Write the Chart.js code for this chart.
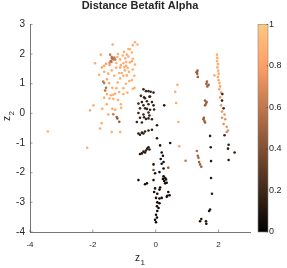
<!DOCTYPE html>
<html>
<head>
<meta charset="utf-8">
<script src="https://cdn.jsdelivr.net/npm/chart.js@4"></script>
<style>
  html, body { margin: 0; padding: 0; background: #fff; }
  #wrap { width: 287px; height: 268px; }
</style>
</head>
<body>
<div id="wrap"><canvas id="myChart" width="287" height="268"></canvas></div>
<script>
// each point: [z1, z2, alpha]
var upperLeft = [
  [-0.66,2.40,0.88],[-0.58,2.32,0.90],[-0.73,2.30,0.88],[-0.82,2.16,0.88],[-1.01,2.08,0.86],
  [-0.76,2.05,0.89],[-0.92,1.98,0.87],[-0.87,1.92,0.85],[-1.13,1.82,0.86],[-1.37,2.32,0.84],
  [-1.45,1.98,0.62],[-1.40,1.90,0.58],[-1.35,1.82,0.60],[-1.43,1.76,0.56],[-1.47,1.71,0.70],
  [-1.75,1.98,0.87],[-1.93,1.69,0.86],[-1.64,1.60,0.84],[-1.03,1.69,0.88],[-0.76,1.76,0.87],
  [-0.94,1.60,0.86],[-1.13,1.55,0.85],[-0.87,2.17,0.88],[-1.29,1.82,0.60],[-1.41,1.73,0.58],
  [-1.39,1.85,0.55],[-1.32,1.88,0.62],[-0.97,1.86,0.87],[-0.94,1.73,0.88],[-0.82,1.72,0.86],
  [-0.73,1.84,0.89],[-0.66,1.65,0.87],[-1.58,1.67,0.80],[-1.47,1.63,0.78],[-1.71,1.55,0.86],
  [-1.26,1.54,0.84],[-1.11,1.63,0.87],[-1.00,1.56,0.86],[-0.89,1.53,0.88],[-0.73,1.48,0.87],
  [-1.64,1.40,0.86],[-1.51,1.34,0.85],[-1.32,1.27,0.87],[-1.16,1.36,0.86],[-1.08,1.36,0.88],
  [-1.03,1.27,0.87],[-0.92,1.28,0.86],[-0.68,1.27,0.88],[-1.13,1.18,0.87],[-0.84,1.09,0.86],
  [-0.76,1.12,0.88],[-1.21,1.04,0.85],[-1.48,1.02,0.84],[-1.64,1.02,0.62],[-1.58,0.86,0.55],
  [-1.61,0.77,0.55],[-1.67,1.07,0.60],[-1.38,0.86,0.86],[-1.03,0.85,0.87],[-0.73,0.83,0.88],
  [-0.67,0.86,0.90],[-1.16,0.72,0.86],[-1.03,0.65,0.87],[-1.35,0.63,0.85],[-1.64,0.53,0.86],
  [-1.47,0.50,0.87],[-1.35,0.49,0.86],[-1.43,0.61,0.85],[-1.29,0.66,0.88],[-1.56,0.31,0.86],
  [-1.98,0.27,0.87],[-1.38,0.15,0.86],[-1.29,0.12,0.85],[-1.11,0.31,0.88],[-1.10,0.19,0.87],
  [-2.09,0.10,0.86],[-1.35,-0.03,0.60],[-1.22,-0.17,0.45],[-1.16,-0.28,0.45],[-1.24,-0.12,0.50],
  [-1.72,-0.33,0.86],[-1.77,-0.51,0.87],[-1.40,-0.63,0.86],[-1.13,-0.63,0.87],[-1.51,-0.04,0.86],
  [-1.20,2.00,0.87],[-1.05,1.95,0.88],[-1.25,1.70,0.86],[-0.85,1.40,0.87],[-1.40,1.45,0.86],
  [-1.80,1.30,0.87],[-0.98,1.45,0.88],[-1.22,1.90,0.86],[-1.55,1.15,0.85],[-0.95,1.00,0.87],
  [-1.25,0.85,0.88],[-1.55,0.65,0.86],[-0.90,0.70,0.87],[-1.20,0.45,0.86],[-1.70,0.15,0.87]
];
var strays = [
  [-3.43,-0.61,0.87],[-2.18,-1.16,0.86],[0.69,0.96,0.88],[0.62,0.73,0.87],
  [0.65,0.35,0.86],[0.72,-0.29,0.85],[0.75,-1.11,0.82],[0.95,-1.60,0.60]
];
var centerColumn = [
  [-0.39,0.81,0.20],[-0.31,0.75,0.18],[-0.16,0.73,0.20],[-0.07,0.70,0.17],[-0.47,0.59,0.19],
  [-0.37,0.54,0.18],[-0.20,0.56,0.20],[-0.44,0.38,0.17],[-0.28,0.41,0.19],[-0.12,0.38,0.18],
  [-0.55,0.33,0.20],[-0.39,0.27,0.18],[-0.23,0.31,0.19],[-0.07,0.27,0.17],[-0.50,0.17,0.18],
  [-0.34,0.17,0.20],[-0.18,0.12,0.18],[-0.05,0.13,0.16],[-0.55,0.01,0.18],[-0.39,-0.04,0.17],
  [-0.23,0.03,0.19],[-0.50,-0.15,0.16],[-0.31,-0.19,0.18],[-0.12,-0.20,0.15],[-0.60,-0.29,0.17],
  [-0.44,-0.31,0.16],[0.27,0.27,0.12],[0.04,-0.40,0.12],[-0.23,0.75,0.19],[-0.34,0.51,0.18],
  [-0.18,0.57,0.17],[-0.28,0.15,0.18],[-0.20,-0.07,0.16],[-0.37,-0.13,0.17],[-0.23,-0.17,0.16],
  [-0.55,-0.68,0.14],[-0.44,-0.65,0.15],[-0.34,-0.61,0.14],[-0.23,-0.58,0.15],[-0.12,-0.55,0.13],
  [-0.50,-0.72,0.14],[-0.39,-0.68,0.13],[0.04,-0.84,0.10],[0.14,-1.08,0.09],[0.46,-1.00,0.10],
  [-0.50,-1.37,0.12],[-0.39,-1.29,0.13],[-0.31,-1.25,0.12],[-0.23,-1.14,0.13],[-0.20,-1.22,0.12],
  [-0.34,-1.32,0.11],[-0.44,-1.35,0.12],[-0.27,-1.19,0.13],[0.19,-1.32,0.08],[0.23,-1.43,0.07],
  [0.16,-1.54,0.08],[0.25,-1.64,0.07],[0.19,-1.70,0.08],[0.25,-1.86,0.07],[-0.07,-1.72,0.09],
  [-0.07,-1.91,0.40],[-0.02,-2.02,0.08],[0.40,-1.83,0.50],[0.12,-1.98,0.07],[0.25,-2.12,0.06],
  [0.30,-2.18,0.07],[0.23,-2.21,0.06],[0.33,-2.23,0.07],[0.27,-2.28,0.06],[-0.55,-2.25,0.08],
  [-0.34,-2.39,0.07],[-0.28,-2.36,0.08],[-0.07,-2.25,0.07],[0.30,-2.36,0.06],[0.35,-2.34,0.07],
  [0.14,-2.50,0.06],[0.40,-2.65,0.07],[0.44,-2.76,0.06],[0.35,-2.81,0.07],[0.12,-2.57,0.06],
  [-0.02,-2.53,0.07],[-0.05,-2.65,0.06],[0.05,-2.71,0.05],[0.01,-2.85,0.06],[0.12,-2.87,0.05],
  [0.19,-2.85,0.06],[0.37,-2.78,0.07],[0.05,-3.00,0.05],[0.12,-3.03,0.05],[0.04,-3.13,0.06],
  [0.09,-3.19,0.05],[0.05,-3.29,0.05],[0.01,-3.42,0.04],[0.04,-3.51,0.05],[-0.02,-3.59,0.04],
  [0.01,-3.67,0.04]
];
var rightInner = [
  [1.33,1.44,0.50],[1.32,1.34,0.48],[1.34,1.23,0.50],[1.30,1.39,0.46],
  [1.63,1.07,0.50],[1.68,0.96,0.47],[1.64,0.91,0.50],[1.61,1.00,0.48],
  [1.57,0.43,0.48],[1.60,0.33,0.50],[1.57,0.27,0.46],[1.62,0.38,0.49],
  [1.52,-0.20,0.47],[1.55,-0.26,0.50],[1.57,-0.31,0.48],[1.53,-0.15,0.46],
  [1.31,-1.27,0.55],[1.34,-1.43,0.50],[1.36,-1.50,0.52],[1.38,-1.64,0.48],[1.41,-1.72,0.50],[1.45,-1.80,0.47],
  [1.45,-3.56,0.10],[1.41,-3.64,0.08],[1.60,-3.64,0.10],[1.61,-3.72,0.08],
  [1.73,-0.76,0.15],[1.75,-1.14,0.14],[1.76,-1.61,0.13],[1.76,-2.18,0.12],
  [1.79,-2.71,0.12],[1.73,-3.24,0.11],[1.70,-3.29,0.10]
];
var rightOuter = [
  [1.95,1.98,0.87],[1.96,1.87,0.86],[1.95,1.76,0.88],[1.98,1.66,0.87],[1.96,1.55,0.86],
  [1.99,1.44,0.87],[2.00,1.34,0.85],[1.98,1.23,0.87],[2.00,1.12,0.86],[2.03,1.02,0.84],
  [2.05,0.91,0.82],[2.02,0.81,0.80],[2.08,0.70,0.78],[2.12,0.65,0.20],[2.05,0.54,0.77],
  [2.11,0.43,0.18],[2.08,0.27,0.76],[2.16,0.17,0.20],[2.11,0.06,0.74],[2.19,-0.04,0.74],
  [2.21,-0.20,0.72],[2.11,-0.15,0.70],[2.16,-0.36,0.72],[2.26,-0.45,0.74],[2.30,-0.58,0.72],
  [2.26,-0.63,0.70],[2.19,-0.74,0.18],[1.87,1.28,0.87],
  [2.32,-1.06,0.16],[2.30,-1.19,0.15],[2.51,-1.32,0.14],[2.32,-1.57,0.15]
];
var xTicks = [-4, -2, 0, 2];
var yTicks = [-4, -3, -2, -1, 0, 1, 2, 3];
var cbTicks = [0, 0.2, 0.4, 0.6, 0.8, 1];

var txt = '#262626';
var fam = '"Liberation Sans", Arial, Helvetica, sans-serif';

function copper(v) {
  var r = Math.round(Math.min(1, 1.25 * v) * 255);
  var g = Math.round(0.7812 * v * 255);
  var b = Math.round(0.4975 * v * 255);
  return 'rgb(' + r + ',' + g + ',' + b + ')';
}

var points = upperLeft.concat(strays, centerColumn, rightInner, rightOuter).map(function (p) {
  return { x: p[0], y: p[1], v: p[2] };
});

function fixTicks(list) {
  return function (scale) { scale.ticks = list.map(function (v) { return { value: v }; }); };
}

var decor = {
  id: 'decor',
  afterDraw: function (chart) {
    var ctx = chart.ctx, a = chart.chartArea, s = chart.scales;
    ctx.save();
    // inward tick marks
    ctx.strokeStyle = '#555';
    ctx.lineWidth = 0.6;
    ctx.beginPath();
    xTicks.forEach(function (v) {
      var px = s.x.getPixelForValue(v);
      ctx.moveTo(px, a.bottom); ctx.lineTo(px, a.bottom - 2.5);
    });
    yTicks.forEach(function (v) {
      var py = s.y.getPixelForValue(v);
      ctx.moveTo(a.left, py); ctx.lineTo(a.left + 2.5, py);
    });
    ctx.stroke();

    // colorbar
    var top = s.cb.getPixelForValue(1), bot = s.cb.getPixelForValue(0);
    var bx = a.right + 8, bw = 10;
    var grad = ctx.createLinearGradient(0, bot, 0, top);
    grad.addColorStop(0, copper(0));
    grad.addColorStop(0.8, copper(0.8));
    grad.addColorStop(1, copper(1));
    ctx.fillStyle = grad;
    ctx.fillRect(bx, top, bw, bot - top);
    ctx.strokeStyle = '#888';
    ctx.lineWidth = 0.6;
    ctx.strokeRect(bx, top, bw, bot - top);
    ctx.strokeStyle = '#333';
    ctx.beginPath();
    cbTicks.forEach(function (v) {
      var py = s.cb.getPixelForValue(v);
      ctx.moveTo(bx + bw, py); ctx.lineTo(bx + bw - 1.5, py);
    });
    ctx.stroke();

    // title
    ctx.fillStyle = txt;
    ctx.textAlign = 'center';
    ctx.textBaseline = 'alphabetic';
    ctx.font = 'bold 11px ' + fam;
    ctx.fillText('Distance Betafit Alpha', (a.left + a.right) / 2, 9);

    // x label z_1
    var cx = (a.left + a.right) / 2;
    ctx.textAlign = 'left';
    ctx.font = '10px ' + fam;
    ctx.fillText('z', cx - 5, 261);
    ctx.font = '8px ' + fam;
    ctx.fillText('1', cx + 0.5, 265);

    // y label z_2
    ctx.translate(10, 121);
    ctx.rotate(-Math.PI / 2);
    ctx.font = '10px ' + fam;
    ctx.fillText('z', 0, 0);
    ctx.font = '8px ' + fam;
    ctx.fillText('2', 5.5, 4);
    ctx.restore();
  }
};

var ctx = document.getElementById('myChart').getContext('2d');
var myChart = new Chart(ctx, {
  type: 'scatter',
  data: {
    datasets: [{
      data: points,
      pointRadius: 1.3,
      pointHoverRadius: 1.3,
      borderWidth: 0,
      pointBackgroundColor: function (c) { return copper(c.raw ? c.raw.v : 0); }
    }]
  },
  options: {
    responsive: false,
    animation: false,
    layout: { padding: { top: 13, left: 0, right: 0, bottom: 0 } },
    plugins: { legend: { display: false }, tooltip: { enabled: false }, title: { display: false } },
    scales: {
      x: {
        type: 'linear', position: 'bottom', min: -4, max: 3,
        afterBuildTicks: fixTicks(xTicks),
        afterFit: function (sc) { sc.height = 36; },
        grid: { display: false, drawTicks: false },
        border: { display: true, color: '#777', width: 1 },
        ticks: { color: txt, padding: 8, font: { size: 8, family: fam } }
      },
      y: {
        type: 'linear', position: 'left', min: -4, max: 3,
        afterBuildTicks: fixTicks(yTicks),
        afterFit: function (sc) { sc.width = 30; },
        grid: { display: false, drawTicks: false },
        border: { display: true, color: '#777', width: 1 },
        ticks: { color: txt, padding: 5, font: { size: 10, family: fam } }
      },
      cb: {
        type: 'linear', position: 'right', min: 0, max: 1,
        afterBuildTicks: fixTicks(cbTicks),
        afterFit: function (sc) { sc.width = 37; },
        grid: { display: false, drawTicks: false },
        border: { display: false },
        ticks: { color: txt, padding: 19, font: { size: 9, family: fam },
          callback: function (v) { return String(v); } }
      }
    }
  },
  plugins: [decor]
});
</script>
</body>
</html>
